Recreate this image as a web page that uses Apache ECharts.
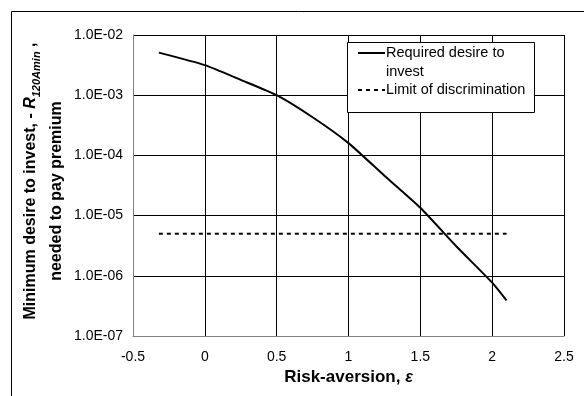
<!DOCTYPE html>
<html>
<head>
<meta charset="utf-8">
<script src="https://cdn.jsdelivr.net/npm/echarts@6/dist/echarts.min.js"></script>
<style>
html,body{margin:0;padding:0;background:#fff;}
#chart{width:584px;height:396px;}
</style>
</head>
<body>
<div id="chart"></div>
<script>
// Data
const riskAversion = [-0.32, 0, 0.25, 0.5, 0.75, 1.0, 1.25, 1.5, 1.75, 2.0, 2.1];
const requiredDesire = [5.1e-3, 3.16e-3, 1.8e-3, 1.0e-3, 4.3e-4, 1.6e-4, 4.6e-5, 1.35e-5, 3.1e-6, 7.7e-7, 3.9e-7];
const limitX = [-0.32, 2.1];
const limitY = [5e-6, 5e-6];
const seriesNames = ['Required desire to invest', 'Limit of discrimination'];
const xTicks = [-0.5, 0, 0.5, 1, 1.5, 2, 2.5];

const FONT = '"Liberation Sans", Arial, sans-serif';
const chart = echarts.init(document.getElementById('chart'), null, {renderer: 'canvas'});

function yFmt(v) {
  const e = Math.round(Math.log10(v));
  return '1.0E' + (e < 0 ? '-' : '+') + String(Math.abs(e)).padStart(2, '0');
}

const option = {
  backgroundColor: '#fff',
  animation: false,
  textStyle: {fontFamily: FONT},
  grid: {left: 133, right: 20, top: 35, bottom: 60, containLabel: false},
  xAxis: {
    type: 'value', min: xTicks[0], max: xTicks[xTicks.length - 1], interval: 0.5,
    axisLine: {show: true, onZero: false, lineStyle: {color: '#808080', width: 1}},
    axisTick: {show: false},
    splitLine: {show: true, lineStyle: {color: '#000', width: 1}},
    axisLabel: {color: '#000', fontSize: 14, fontFamily: FONT, margin: 14,
      formatter: v => String(v)},
    name: '{a|Risk-aversion, }{e|ε}',
    nameLocation: 'middle', nameGap: 31,
    nameTextStyle: {
      rich: {
        a: {fontSize: 17, fontWeight: 'bold', color: '#000', fontFamily: FONT},
        e: {fontSize: 16, fontWeight: 'bold', fontStyle: 'italic', color: '#000', fontFamily: FONT}
      }
    }
  },
  yAxis: {
    type: 'log', logBase: 10, min: 1e-7, max: 1e-2, splitNumber: 5,
    axisLine: {show: true, onZero: false, lineStyle: {color: '#808080', width: 1}},
    axisTick: {show: false},
    splitLine: {show: true, lineStyle: {color: '#000', width: 1}},
    axisLabel: {color: '#000', fontSize: 14, fontFamily: FONT, margin: 10, formatter: yFmt}
  },
  series: [
    {
      name: seriesNames[0], type: 'line', symbol: 'none', smooth: 0.2,
      data: riskAversion.map((x, i) => [x, requiredDesire[i]]),
      lineStyle: {color: '#000', width: 2}, z: 5
    },
    {
      name: seriesNames[1], type: 'line', symbol: 'none',
      data: limitX.map((x, i) => [x, limitY[i]]),
      lineStyle: {color: '#000', width: 2, type: [4, 4]}, z: 5
    }
  ],
  graphic: [
    // outer frame
    {type: 'rect', shape: {x: 11.5, y: 11.5, width: 700, height: 500},
      style: {fill: null, stroke: '#000', lineWidth: 1}, silent: true, z: 0},
    // legend box
    {type: 'rect', shape: {x: 347.5, y: 42.5, width: 187, height: 70},
      style: {fill: '#fff', stroke: '#000', lineWidth: 1}, z: 10},
    {type: 'line', shape: {x1: 358, y1: 53, x2: 385, y2: 53},
      style: {stroke: '#000', lineWidth: 2}, z: 11},
    {type: 'text', x: 386, y: 43, z: 11,
      style: {text: 'Required desire to\ninvest', fill: '#000', font: '14.5px ' + FONT,
        lineHeight: 19, verticalAlign: 'top', align: 'left'}},
    {type: 'line', shape: {x1: 358, y1: 90, x2: 385, y2: 90},
      style: {stroke: '#000', lineWidth: 2, lineDash: [4, 4]}, z: 11},
    {type: 'text', x: 386, y: 90, z: 11,
      style: {text: 'Limit of discrimination', fill: '#000', font: '14.5px ' + FONT,
        verticalAlign: 'middle', align: 'left'}},
    // y-axis title, two rotated lines
    {type: 'text', x: 31, y: 181, rotation: Math.PI / 2, z: 11,
      style: {
        text: '{a|Minimum desire to invest, - }{r|R}{s|120Amin}{a| ,}',
        align: 'center', verticalAlign: 'middle',
        rich: {
          a: {font: 'bold 16px ' + FONT, fill: '#000', lineHeight: 22, verticalAlign: 'middle'},
          r: {font: 'italic bold 16px ' + FONT, fill: '#000', lineHeight: 22, verticalAlign: 'middle'},
          s: {font: 'italic bold 11px ' + FONT, fill: '#000', lineHeight: 11, verticalAlign: 'bottom'}
        }
      }},
    {type: 'text', x: 57, y: 191, rotation: Math.PI / 2, z: 11,
      style: {text: 'needed to pay premium', font: 'bold 16px ' + FONT, fill: '#000',
        align: 'center', verticalAlign: 'middle'}}
  ]
};
chart.setOption(option);
</script>
</body>
</html>
